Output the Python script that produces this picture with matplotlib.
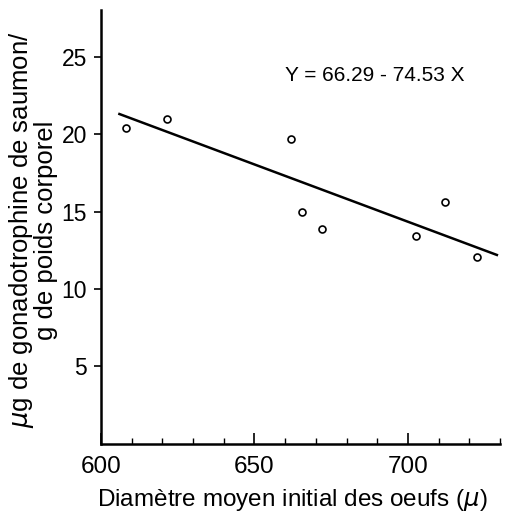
import matplotlib
matplotlib.use("Agg")
import matplotlib.pyplot as plt
from matplotlib.ticker import MultipleLocator

# Data
diam = [608, 621.5, 662, 665.5, 672, 702.5, 712, 722.5]
gth = [20.4, 21.0, 19.7, 15.0, 13.9, 13.4, 15.6, 12.05]

# Regression line end points (Y = 66.29 - 74.53 X)
line_x = [606, 729]
line_y = [21.3, 12.2]

y_ticks = [5, 10, 15, 20, 25]
x_ticks = [600, 650, 700]

plt.rcParams['font.family'] = ['Liberation Sans', 'DejaVu Sans']

fig = plt.figure(figsize=(5.05, 5.12), dpi=100)
ax = fig.add_axes([0.2, 0.133, 0.79, 0.847])

ax.plot(line_x, line_y, color="black", lw=1.8)
ax.plot(diam, gth, ls="none", marker="o", ms=5, mfc="white", mec="black", mew=1.2)

ax.text(660, 23.8, "Y = 66.29 - 74.53 X", fontsize=15, va="center")

ax.set_xlim(600, 730)
ax.set_ylim(0, 28)
ax.set_xticks(x_ticks)
ax.xaxis.set_minor_locator(MultipleLocator(10))
ax.set_yticks(y_ticks)

for s in ["top", "right"]:
    ax.spines[s].set_visible(False)
for s in ["left", "bottom"]:
    ax.spines[s].set_linewidth(1.8)

ax.tick_params(axis="x", which="major", direction="in", length=8, width=1.2, labelsize=17.5, pad=9)
ax.tick_params(axis="x", which="minor", direction="in", length=4, width=1.0)
ax.tick_params(axis="y", direction="out", length=5, width=1.2, labelsize=16.5, pad=5)

fig.text(0.578, 0.012, "Diamètre moyen initial des oeufs ($\\mu$)", fontsize=17.5,
         ha="center", va="baseline")
fig.text(0.064, 0.551, "$\\mu$g de gonadotrophine de saumon/\ng de poids corporel",
         fontsize=18.5, rotation=90, ha="center", va="center",
         multialignment="center", linespacing=0.92)

fig.savefig("out.png", dpi=100)
